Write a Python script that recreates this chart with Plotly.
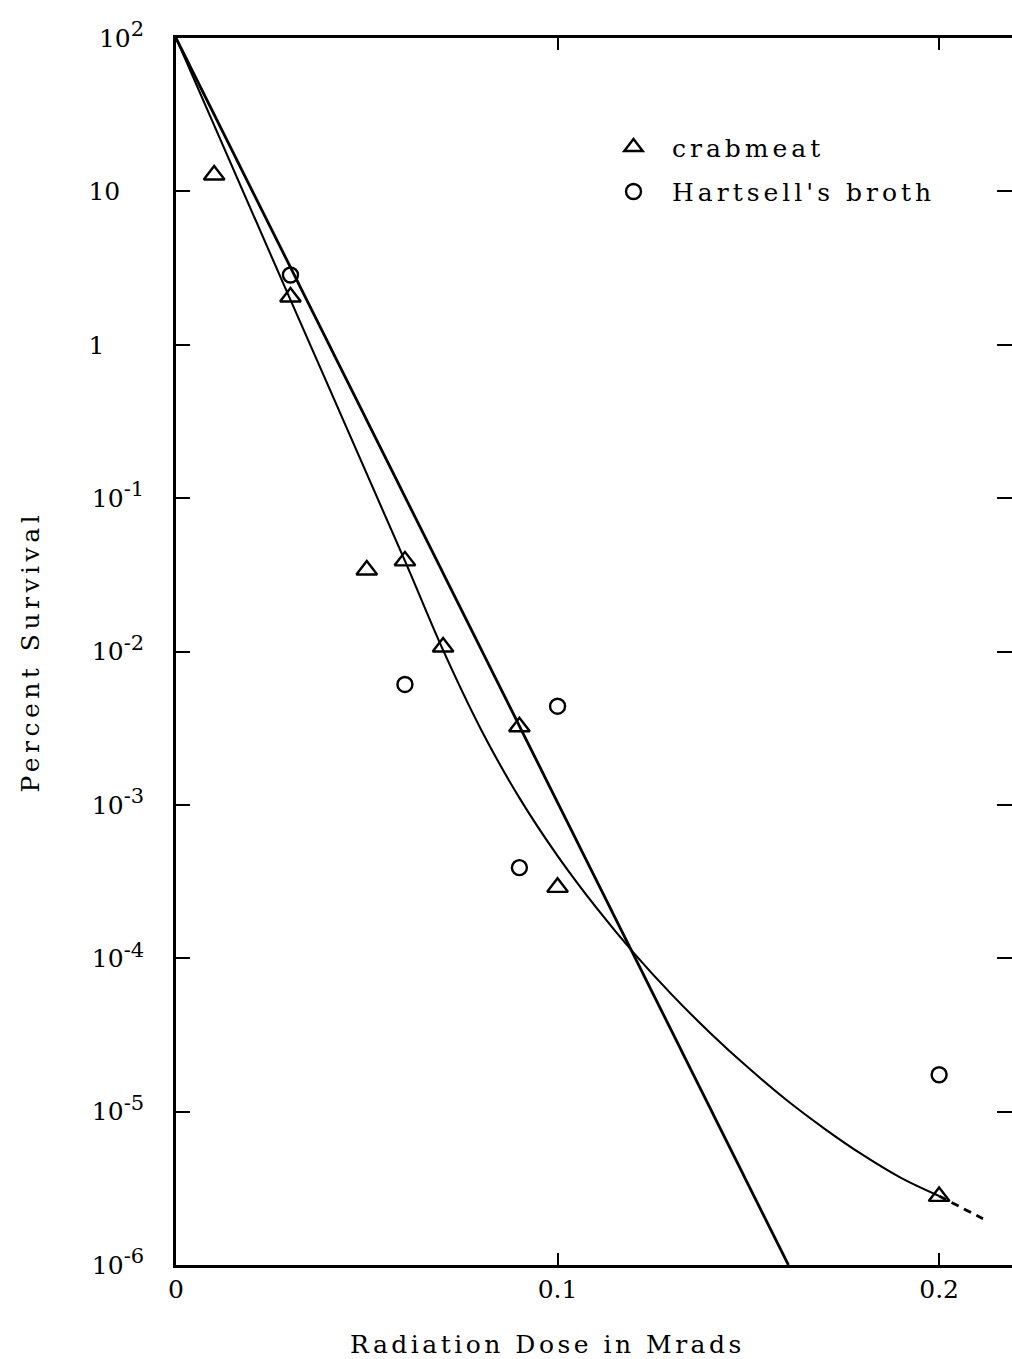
import plotly.graph_objects as go

# Radiation survival of organisms in two media (percent survival vs dose, Mrads)
crab_dose = [0.01, 0.03, 0.05, 0.06, 0.07, 0.09, 0.10, 0.20]
crab_surv = [12.8, 2.05, 0.034, 0.039, 0.0107, 0.00323, 2.9e-4, 2.8e-6]

broth_dose = [0.03, 0.06, 0.09, 0.10, 0.20]
broth_surv = [2.85, 0.0061, 3.9e-4, 0.0044, 1.74e-5]

# Straight exponential survival line
line_dose = [0.0, 0.1605]
line_surv = [100.0, 1e-6]

# Curved survival line (solid part)
curve_dose = [0.0, 0.03, 0.06, 0.07, 0.08, 0.09, 0.10, 0.11, 0.12, 0.13,
              0.14, 0.15, 0.16, 0.17, 0.18, 0.19, 0.20]
curve_surv = [100.0, 1.96, 0.039, 0.0102, 3.08e-3, 1.11e-3, 4.65e-4, 2.16e-4,
              1.08e-4, 5.77e-5, 3.26e-5, 1.93e-5, 1.19e-5, 7.73e-6, 5.22e-6,
              3.70e-6, 2.82e-6]

# Dashed extrapolation of the curve
ext_dose = [0.20, 0.2115]
ext_surv = [2.82e-6, 2.0e-6]

y_tickvals = [1e2, 1e1, 1e0, 1e-1, 1e-2, 1e-3, 1e-4, 1e-5, 1e-6]
SUP = '<sup><span style="font-size:21px">{}</span></sup>'
NB = "&nbsp;"
y_ticktext = ["10" + SUP.format("2"), "10" + NB * 3, "1" + NB * 5,
              "10" + SUP.format("-1"), "10" + SUP.format("-2"), "10" + SUP.format("-3"),
              "10" + SUP.format("-4"), "10" + SUP.format("-5"), "10" + SUP.format("-6")]
x_tickvals = [0, 0.1, 0.2]
x_ticktext = ["0", "0.1", "0.2"]


def spaced(text, px):
    return '<span style="letter-spacing:{}px">{}</span>'.format(px, text)


FONT = "DejaVu Serif"

fig = go.Figure()

fig.add_trace(go.Scatter(x=line_dose, y=line_surv, mode="lines",
                         line=dict(color="black", width=2.8), showlegend=False))
fig.add_trace(go.Scatter(x=curve_dose, y=curve_surv, mode="lines",
                         line=dict(color="black", width=2.1, shape="spline", smoothing=1.0),
                         showlegend=False))
fig.add_trace(go.Scatter(x=ext_dose, y=ext_surv, mode="lines",
                         line=dict(color="black", width=2.8, dash="8px,6px"),
                         showlegend=False))

fig.add_trace(go.Scatter(x=crab_dose, y=crab_surv, mode="markers",
                         name=spaced("crabmeat", 4), legendgroup="a",
                         marker=dict(symbol="triangle-up-open", size=18, color="black",
                                     line=dict(color="black", width=2.4)),
                         cliponaxis=False))
fig.add_trace(go.Scatter(x=broth_dose, y=broth_surv, mode="markers",
                         name=spaced("Hartsell's broth", 4), legendgroup="b",
                         marker=dict(symbol="circle-open", size=15, color="black",
                                     line=dict(color="black", width=2.4)),
                         cliponaxis=False))

# invisible trace carrying the right-hand tick axis
fig.add_trace(go.Scatter(x=[None], y=[None], yaxis="y2", showlegend=False, hoverinfo="skip"))

fig.update_layout(
    width=1012, height=1359,
    margin=dict(l=176, r=0, t=38, b=94),
    paper_bgcolor="white", plot_bgcolor="white",
    font=dict(family=FONT, size=25, color="black"),
    showlegend=True,
    legend=dict(x=0.5012, y=0.9297, xanchor="left", yanchor="top",
                bgcolor="rgba(0,0,0,0)", borderwidth=0,
                font=dict(family=FONT, size=25, color="black"),
                itemwidth=67, tracegroupgap=9),
    xaxis=dict(range=[0, 0.2191], showgrid=False, zeroline=False,
               showline=True, linecolor="black", linewidth=2.8, mirror="ticks",
               ticks="inside", ticklen=12, tickwidth=2, tickcolor="black",
               tickvals=x_tickvals, ticktext=x_ticktext,
               tickfont=dict(family=FONT, size=25)),
    yaxis=dict(type="log", range=[-6, 2], showgrid=False, zeroline=False,
               showline=True, linecolor="black", linewidth=2.8,
               ticks="inside", ticklen=14, tickwidth=2, tickcolor="black",
               tickvals=y_tickvals, ticktext=y_ticktext, ticklabelstandoff=24,
               tickfont=dict(family=FONT, size=25)),
    yaxis2=dict(type="log", range=[-6, 2], overlaying="y", side="right",
                anchor="free", position=1, showgrid=False, zeroline=False,
                showline=False, ticks="inside", ticklen=15, tickwidth=2,
                tickcolor="black", tickvals=y_tickvals, showticklabels=False),
    annotations=[
        dict(text=spaced("Radiation Dose in Mrads", 3.5), xref="paper", yref="paper",
             x=0.444, y=-0.0644, xanchor="center", yanchor="middle",
             showarrow=False, font=dict(family=FONT, size=25)),
        dict(text=spaced("Percent Survival", 4.5), xref="paper", yref="paper",
             x=-0.1746, y=0.5, xanchor="center", yanchor="middle", textangle=-90,
             showarrow=False, font=dict(family=FONT, size=25)),
    ],
)

fig.write_html("out.html")
